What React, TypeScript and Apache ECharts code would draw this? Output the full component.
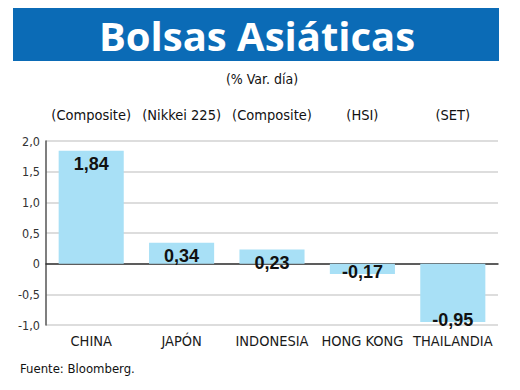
import React, { useEffect, useRef } from "react";
import * as echarts from "echarts";

const categories = ["CHINA", "JAPÓN", "INDONESIA", "HONG KONG", "THAILANDIA"];
const indices = ["(Composite)", "(Nikkei 225)", "(Composite)", "(HSI)", "(SET)"];
const values = [1.84, 0.34, 0.23, -0.17, -0.95];
const title = "Bolsas Asiáticas";
const subtitle = "(% Var. día)";
const source = "Fuente: Bloomberg.";

const NARROW = "'Liberation Sans Narrow', 'DejaVu Sans Condensed', 'Arial Narrow', sans-serif";

export default function App() {
  const ref = useRef<HTMLDivElement>(null);
  useEffect(() => {
    if (!ref.current) return;
    const chart = echarts.init(ref.current, null, { renderer: "svg" });
    const fmt = (v: number) => v.toFixed(2).replace(".", ",");
    chart.setOption({
      animation: false,
      backgroundColor: "#ffffff",
      grid: { left: 46, right: 22, top: 141, bottom: 65 },
      xAxis: [
        {
          type: "category",
          data: categories,
          position: "bottom",
          axisLine: { onZero: true, lineStyle: { color: "#333", width: 1.5 } },
          axisTick: { show: false },
          axisLabel: {
            interval: 0,
            margin: 8,
            fontFamily: NARROW,
            fontSize: 14.5,
            color: "#1a1a1a",
            verticalAlign: "top",
          },
          splitLine: { show: false },
        },
        {
          type: "category",
          data: indices,
          position: "top",
          axisLine: { show: false },
          axisTick: { show: false },
          axisLabel: {
            interval: 0,
            margin: 19,
            fontFamily: NARROW,
            fontSize: 14.5,
            color: "#111",
          },
        },
      ],
      yAxis: {
        type: "value",
        min: -1,
        max: 2,
        interval: 0.5,
        axisLine: { show: true, lineStyle: { color: "#555", width: 1.5 } },
        axisTick: { show: false },
        axisLabel: {
          margin: 6,
          fontFamily: NARROW,
          fontSize: 12.5,
          color: "#333",
          formatter: (v: number) => (v === 0 ? "0" : v.toFixed(1).replace(".", ",")),
        },
        splitLine: { lineStyle: { color: "#d2d2d2", width: 1.5 } },
      },
      series: [
        {
          type: "bar",
          xAxisIndex: 0,
          barWidth: "72%",
          itemStyle: { color: "#a8e0f6" },
          data: values.map((v) => ({
            value: v,
            label:
              v >= 0
                ? { position: "insideTop", distance: 4 }
                : { position: "insideBottom", distance: 0, offset: [0, 7] },
          })),
          label: {
            show: true,
            fontFamily: "'Liberation Sans', Arial, sans-serif",
            fontWeight: "bold",
            fontSize: 18,
            color: "#111",
            formatter: (p: any) => fmt(p.value),
          },
        },
      ],
      graphic: [
        {
          type: "rect",
          shape: { x: 13, y: 8, width: 486, height: 53 },
          style: { fill: "#0b6bb6" },
        },
        {
          type: "text",
          x: 257,
          y: 35,
          style: {
            text: title,
            fill: "#ffffff",
            font: "bold 40px 'Open Sans', 'Noto Sans', sans-serif",
            align: "center",
            verticalAlign: "middle",
          },
        },
        {
          type: "text",
          x: 262,
          y: 79,
          style: {
            text: subtitle,
            fill: "#111",
            font: "14px " + NARROW,
            align: "center",
            verticalAlign: "middle",
          },
        },
        {
          type: "text",
          x: 20,
          y: 368,
          style: {
            text: source,
            fill: "#111",
            font: "13px " + NARROW,
            align: "left",
            verticalAlign: "middle",
          },
        },
      ],
    });
    return () => chart.dispose();
  }, []);
  return (
    <div
      ref={ref}
      style={{ position: "fixed", left: 0, top: 0, width: 520, height: 390 }}
    />
  );
}
